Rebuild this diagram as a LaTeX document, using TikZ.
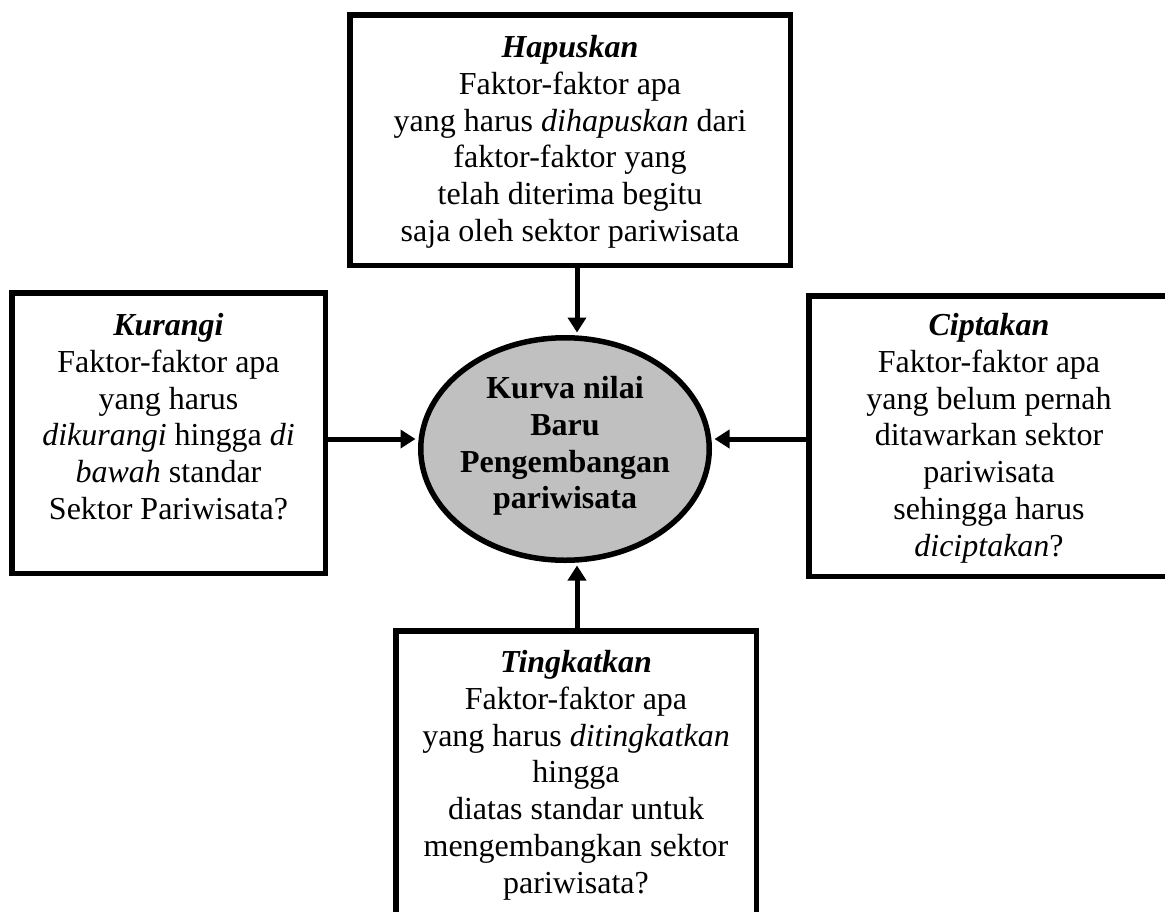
\documentclass[tikz,border=0pt]{standalone}
\usepackage{fontspec}
\setmainfont{Liberation Serif}
\usetikzlibrary{arrows.meta,shapes.geometric}
\definecolor{ellgray}{RGB}{192,192,192}
\begin{document}
\begin{tikzpicture}[x=1pt,y=-1pt,
  box/.style={draw, line width=5.5pt, rectangle, inner sep=0pt, fill=white},
  txt/.style={align=center, inner sep=0pt, anchor=north, font=\fontsize{32}{36.8}\selectfont},
  ell/.style={draw, line width=5.5pt, ellipse, fill=ellgray, inner sep=0pt},
  arr/.style={line width=5pt, -{Triangle[length=15pt,width=18pt]}, shorten >=2.5pt}]
\useasboundingbox (0,0) rectangle (1165,911);
% boxes
\node[box, minimum width=440.5pt, minimum height=250.5pt] (top) at (570,140) {};
\node[box, minimum width=313.5pt, minimum height=280.5pt] (left) at (168.5,433) {};
\node[box, minimum width=360.5pt, minimum height=280.5pt] (right) at (989,436) {};
\node[box, minimum width=360.5pt, minimum height=296.5pt] (bottom) at (576,779) {};
\node[ell, minimum width=288.5pt, minimum height=222.5pt] (ell) at (565,449) {};
% texts
\node[txt] (toptxt) at (570,35) {\textbf{\textit{Hapuskan}}\\Faktor-faktor apa\\yang harus \textit{dihapuskan} dari\\faktor-faktor yang\\telah diterima begitu\\saja oleh sektor pariwisata};
\node[txt] (lefttxt) at (168.5,313) {\textbf{\textit{Kurangi}}\\Faktor-faktor apa\\yang harus\\\textit{dikurangi} hingga \textit{di}\\\textit{bawah} standar\\Sektor Pariwisata?};
\node[txt] (righttxt) at (989,313) {\textbf{\textit{Ciptakan}}\\Faktor-faktor apa\\yang belum pernah\\ditawarkan sektor\\pariwisata\\sehingga harus\\\textit{diciptakan}?};
\node[txt] (bottomtxt) at (576,650) {\textbf{\textit{Tingkatkan}}\\Faktor-faktor apa\\yang harus \textit{ditingkatkan}\\hingga\\diatas standar untuk\\mengembangkan sektor\\pariwisata?};
\node[txt, anchor=center, font=\fontsize{32}{36.8}\selectfont\bfseries] (elltxt) at (565,446) {Kurva nilai\\Baru\\Pengembangan\\pariwisata};
% arrows
\coordinate (ax) at (577,0);
\coordinate (ay) at (0,439);
\draw[arr] (top.south -| ax) -- (ax |- ell.north);
\draw[arr] (bottom.north -| ax) -- (ax |- ell.south);
\draw[arr] (left.east |- ay) -- (ell.west |- ay);
\draw[arr] (right.west |- ay) -- (ell.east |- ay);
\end{tikzpicture}
\end{document}
